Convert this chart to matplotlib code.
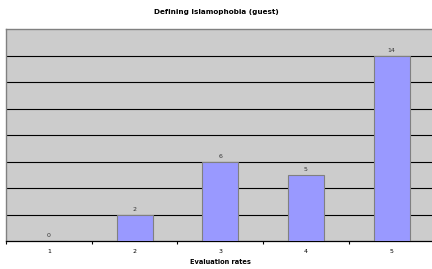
import matplotlib.pyplot as plt
import numpy as np

categories = ['1', '2', '3', '4', '5']
counts = [0, 2, 6, 5, 14]
title = 'Defining Islamophobia (guest)'
xlabel = 'Evaluation rates'

fig = plt.figure(figsize=(4.32, 2.69), dpi=100)
ax = fig.add_axes([0.0139, 0.104, 0.992, 0.787])
ax.set_facecolor('#CCCCCC')

x = np.arange(len(categories))
bars = ax.bar(x, counts, width=0.42, color='#9999FF', edgecolor='#808080',
              linewidth=0.8, zorder=3)

# value labels above bars
for rect, v in zip(bars, counts):
    ax.annotate(str(v), xy=(rect.get_x() + rect.get_width() / 2, rect.get_height()),
                xytext=(0, 2), textcoords='offset points',
                ha='center', va='bottom', fontsize=4.5, color='#333333')

ax.set_xlim(-0.5, len(categories) - 0.5)
ax.set_ylim(0, 16)

# horizontal gridlines every 2
ax.set_yticks(np.arange(2, 16, 2))
ax.yaxis.grid(True, color='black', linewidth=0.8, zorder=1)
ax.tick_params(axis='y', left=False, labelleft=False)

# ticks at category boundaries, labels at centres
ax.set_xticks(np.arange(-0.5, len(categories), 1.0))
ax.set_xticklabels([])
ax.tick_params(axis='x', which='major', direction='out', length=2, width=0.8, color='black')
ax.set_xticks(x, minor=True)
ax.set_xticklabels(categories, minor=True, fontsize=4.5)
ax.tick_params(axis='x', which='minor', length=0, pad=6)

for side in ['top', 'left', 'right']:
    ax.spines[side].set_color('#808080')
    ax.spines[side].set_linewidth(1.0)
ax.spines['bottom'].set_color('black')
ax.spines['bottom'].set_linewidth(0.9)

ax.set_xlabel(xlabel, fontsize=4.8, fontweight='bold', labelpad=3)
fig.text(0.5, 0.955, title, ha='center', va='center', fontsize=5.2, fontweight='bold')

plt.savefig('out.png', dpi=100)
